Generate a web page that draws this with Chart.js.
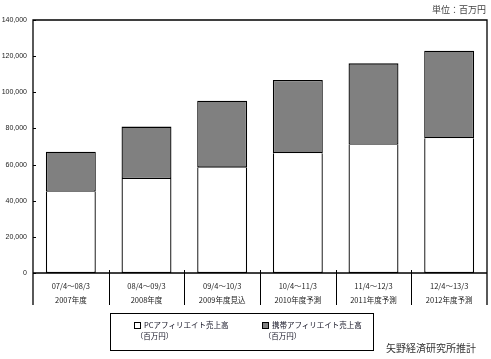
<!DOCTYPE html>
<html><head><meta charset="utf-8">
<script src="https://cdn.jsdelivr.net/npm/chart.js@4/dist/chart.umd.min.js"></script>
<style>
html,body{margin:0;padding:0;background:#fff;}
#wrap{position:relative;width:491px;height:359px;font-family:"Noto Sans CJK JP","Liberation Sans",sans-serif;color:#222;}
canvas{position:absolute;left:0;top:0;}
.t{position:absolute;white-space:nowrap;}
#unit{right:5px;top:3px;font-size:9px;color:#444;}
#src{left:386px;top:340px;font-size:10px;color:#333;}
#legend{position:absolute;left:110px;top:313px;width:264px;height:38px;border:1px solid #000;box-sizing:border-box;}
.li{position:absolute;top:5px;font-size:7.5px;line-height:11px;color:#112;}
.sw{display:inline-block;width:5px;height:5px;border:1px solid #000;margin-right:3px;vertical-align:-0.5px;}
</style></head><body>
<div id="wrap">
<canvas id="c" width="491" height="359"></canvas>
<div class="t" id="unit">単位：百万円</div>
<div id="legend">
  <div class="li" style="left:23px"><span class="sw" style="background:#fff"></span>PCアフィリエイト売上高<br>&nbsp;（百万円）</div>
  <div class="li" style="left:151px"><span class="sw" style="background:#808080"></span>携帯アフィリエイト売上高<br>&nbsp;（百万円）</div>
</div>
<div class="t" id="src">矢野経済研究所推計</div>
</div>
<script>
const periods = ["07/4～08/3","08/4～09/3","09/4～10/3","10/4～11/3","11/4～12/3","12/4～13/3"];
const fiscalYears = ["2007年度","2008年度","2009年度見込","2010年度予測","2011年度予測","2012年度予測"];
const pcSales = [45000, 52000, 58300, 66200, 71000, 74500];
const mobileSales = [22100, 29000, 37000, 40600, 45000, 48500];
const yTicks = [0,20000,40000,60000,80000,100000,120000,140000];

const frame = {
  id:'frame',
  afterDraw(chart){
    const {ctx, chartArea:a, scales:{x,y}} = chart;
    ctx.save();
    ctx.strokeStyle='#000'; ctx.lineWidth=1.3;
    ctx.beginPath();
    ctx.moveTo(a.left, 305); ctx.lineTo(a.left, a.top); ctx.lineTo(a.right, a.top); ctx.lineTo(a.right, 305);
    ctx.moveTo(a.left, a.bottom); ctx.lineTo(a.right, a.bottom);
    ctx.stroke();
    ctx.lineWidth=1;
    ctx.beginPath();
    const n = periods.length;
    for(let i=1;i<n;i++){
      const xp = Math.round((x.getPixelForValue(i-1)+x.getPixelForValue(i))/2)+0.5;
      ctx.moveTo(xp, a.bottom-3); ctx.lineTo(xp, 305);
    }
    yTicks.forEach(v=>{ const yp=Math.round(y.getPixelForValue(v))+0.5; ctx.moveTo(a.left, yp); ctx.lineTo(a.left+3, yp);});
    ctx.stroke();
    ctx.restore();
  }
};

new Chart(document.getElementById('c'), {
  type:'bar',
  data:{
    labels: periods.map((p,i)=>[p, fiscalYears[i]]),
    datasets:[
      {label:'PCアフィリエイト売上高（百万円）', data:pcSales, backgroundColor:'#ffffff', borderColor:'#000', borderWidth:1.3, borderSkipped:'top', categoryPercentage:1, barPercentage:0.66},
      {label:'携帯アフィリエイト売上高（百万円）', data:mobileSales, backgroundColor:'#808080', borderColor:'#000', borderWidth:1.3, borderSkipped:false, categoryPercentage:1, barPercentage:0.66}
    ]
  },
  options:{
    responsive:false, animation:false,
    layout:{padding:{top:20,right:4,left:0,bottom:0}},
    plugins:{legend:{display:false}, tooltip:{enabled:false}},
    scales:{
      x:{stacked:true, grid:{display:false, drawTicks:false}, border:{display:false},
         ticks:{padding:6, color:'#222', font:{family:'"Noto Sans CJK JP","Liberation Sans",sans-serif', size:7.5, lineHeight:1.87}, maxRotation:0, autoSkip:false},
         afterFit(s){ s.height = 86; }},
      y:{stacked:true, min:0, max:140000, grid:{display:false, drawTicks:false}, border:{display:false},
         afterBuildTicks(s){ s.ticks = yTicks.map(v=>({value:v})); },
         ticks:{padding:6, color:'#222', font:{family:'"Liberation Sans",Arial,sans-serif', size:7}, callback:v=>v.toLocaleString('en-US')},
         afterFit(s){ s.width = 33; }}
    }
  },
  plugins:[frame]
});
</script>
</body></html>
